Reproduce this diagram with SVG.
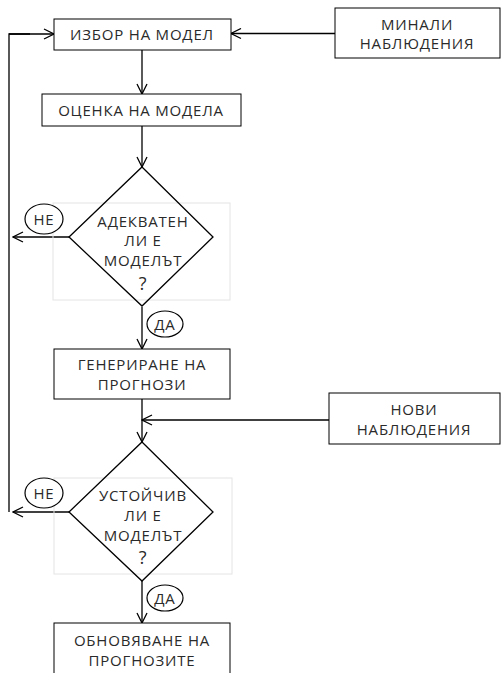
<svg xmlns="http://www.w3.org/2000/svg" width="502" height="673" viewBox="0 0 502 673">
<style>
.box{fill:#fff;stroke:#000;stroke-width:1}
.dia{fill:none;stroke:#000;stroke-width:1.3}
.faint{fill:none;stroke:#e4e4e4;stroke-width:1}
.t{font-family:"Open Sans","Liberation Sans",sans-serif;font-size:15px;letter-spacing:0.8px;fill:#2a2a2a;text-anchor:middle}
.q{font-size:18px}
.c{fill:#fff;stroke:#000;stroke-width:1.2}
.ln{fill:none;stroke:#000;stroke-width:1.3;marker-end:url(#a)}
.pl{fill:none;stroke:#000;stroke-width:1.3}
</style>
<defs>
<marker id="a" viewBox="0 0 12 12" refX="11" refY="6" markerWidth="12" markerHeight="12" markerUnits="userSpaceOnUse" orient="auto">
<path d="M1,1 L11,6 L1,11" fill="none" stroke="#000" stroke-width="1.3"/>
</marker>
</defs>
<g id="connectors">
<line class="ln" x1="335" y1="33.5" x2="231" y2="33.5"/>
<line class="ln" x1="142" y1="50" x2="142" y2="94"/>
<line class="ln" x1="142" y1="126" x2="142" y2="167"/>
<line class="ln" x1="69" y1="237" x2="13" y2="237"/>
<line class="ln" x1="142" y1="307" x2="142" y2="349"/>
<line class="ln" x1="329" y1="420" x2="142" y2="420"/>
<line class="ln" x1="142" y1="399" x2="142" y2="442"/>
<line class="ln" x1="69" y1="512" x2="13" y2="512"/>
<polyline class="pl" points="9,512 9,34 30,34"/>
<line class="ln" x1="9" y1="34" x2="54" y2="34"/>
<line class="ln" x1="142" y1="581" x2="142" y2="623"/>
</g>
<g id="izbor">
<rect class="box" x="54" y="19" width="177" height="31"/>
<text class="t" x="142" y="40">ИЗБОР НА МОДЕЛ</text>
</g>
<g id="minali">
<rect class="box" x="335" y="8" width="165" height="50"/>
<text class="t" x="417" y="30">МИНАЛИ</text>
<text class="t" x="417" y="49">НАБЛЮДЕНИЯ</text>
</g>
<g id="ocenka">
<rect class="box" x="42" y="94" width="199" height="32"/>
<text class="t" x="141" y="116">ОЦЕНКА НА МОДЕЛА</text>
</g>
<g id="adekvaten">
<rect class="faint" x="53" y="203" width="177" height="97"/>
<polygon class="dia" points="142,167 213,237 142,306 69,237"/>
<text class="t" x="143" y="227">АДЕКВАТЕН</text>
<text class="t" x="143" y="246">ЛИ Е</text>
<text class="t" x="143" y="266">МОДЕЛЪТ</text>
<text class="t q" x="143" y="290">?</text>
</g>
<g id="ne1">
<ellipse class="c" cx="44" cy="219" rx="19" ry="15"/>
<text class="t" x="44" y="224.5">НЕ</text>
</g>
<g id="da1">
<ellipse class="c" cx="165" cy="324" rx="18" ry="13"/>
<text class="t" x="165" y="329.5">ДА</text>
</g>
<g id="generirane">
<rect class="box" x="54" y="349" width="176" height="50"/>
<text class="t" x="142" y="370">ГЕНЕРИРАНЕ НА</text>
<text class="t" x="142" y="390">ПРОГНОЗИ</text>
</g>
<g id="novi">
<rect class="box" x="329" y="393" width="171" height="51"/>
<text class="t" x="414" y="415">НОВИ</text>
<text class="t" x="414" y="435">НАБЛЮДЕНИЯ</text>
</g>
<g id="ustoichiv">
<rect class="faint" x="54" y="478" width="178" height="96"/>
<polygon class="dia" points="142,442 213,512 142,581 69,512"/>
<text class="t" x="143" y="501">УСТОЙЧИВ</text>
<text class="t" x="143" y="521">ЛИ Е</text>
<text class="t" x="143" y="541">МОДЕЛЪТ</text>
<text class="t q" x="143" y="564">?</text>
</g>
<g id="ne2">
<ellipse class="c" cx="44" cy="493" rx="19" ry="15"/>
<text class="t" x="44" y="498.5">НЕ</text>
</g>
<g id="da2">
<ellipse class="c" cx="165" cy="598" rx="18" ry="13"/>
<text class="t" x="165" y="603.5">ДА</text>
</g>
<g id="obnovyavane">
<rect class="box" x="54" y="623" width="176" height="60"/>
<text class="t" x="142" y="646">ОБНОВЯВАНЕ НА</text>
<text class="t" x="142" y="666">ПРОГНОЗИТЕ</text>
</g>
</svg>
